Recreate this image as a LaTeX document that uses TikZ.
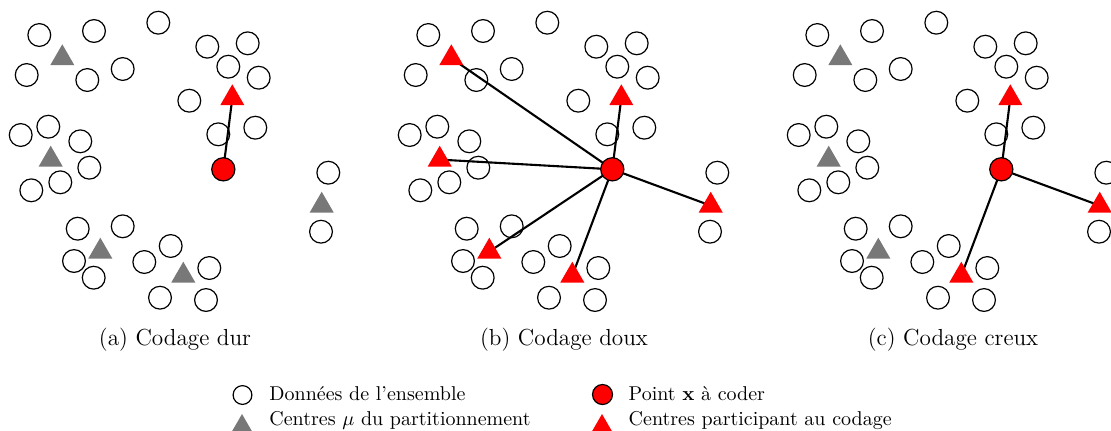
\documentclass[tikz,border=0pt]{standalone}
\usetikzlibrary{shapes.geometric,backgrounds}
\definecolor{ctrgray}{RGB}{120,120,120}
\tikzset{
  datum/.style={circle,draw=black,line width=0.6pt,minimum size=11.4pt,inner sep=0pt},
  ctrg/.style={regular polygon,regular polygon sides=3,minimum size=13.9pt,inner sep=0pt,outer sep=0pt,fill=ctrgray},
  ctrr/.style={ctrg,fill=red},
  xpt/.style={circle,draw=black,fill=red,line width=0.6pt,minimum size=11.6pt,inner sep=0pt},
  link/.style={line width=1.05pt,black},
  legd/.style={circle,draw=black,line width=0.6pt,minimum size=9.4pt,inner sep=0pt},
  legx/.style={circle,draw=black,fill=red,line width=0.6pt,minimum size=10pt,inner sep=0pt},
  legt/.style={regular polygon,regular polygon sides=3,minimum size=11.5pt,inner sep=0pt,outer sep=0pt},
  legtxt/.style={anchor=base west,inner sep=0pt,font=\fontsize{10}{12}\selectfont},
  capt/.style={anchor=base,inner sep=0pt,font=\fontsize{11.6}{14}\selectfont},
}
\def\datapts{39.3/35, 94/31, 158.3/22.7, 26.7/75, 87.3/80, 122.7/69, 207.3/46.7, 247.7/43.3, 228.3/66.7, 258.7/77.7, 189.3/100.7, 255.3/127.7, 218.3/134.3, 20.7/135, 48.3/126.7, 80.3/141.3, 89.3/167.7, 60.3/182.3, 31.3/190.3, 328.3/172.7, 321/231.7, 77.7/228.7, 122.7/226.3, 74/261, 93.7/277.7, 170.7/246, 144.3/262, 209.3/268, 160/297.7, 206/300}
\newcommand\dataset[1]{%
  \foreach \px/\py [count=\i] in \datapts {\node[datum] (#1-d\i) at (\px,\py) {};}}
\begin{document}
\begin{tikzpicture}[x=0.5pt,y=-0.5pt]
\clip (0,0) rectangle (1111,430);
% ---------- (a) hard coding ----------
\begin{scope}
  \dataset{a}
  \node[ctrg] (a-t1) at (62.3,58.2) {};
  \node[ctrg] (a-t2) at (50.7,159.6) {};
  \node[ctrg] (a-t3) at (100.3,251.6) {};
  \node[ctrg] (a-t4) at (183.3,275.6) {};
  \node[ctrg] (a-t5) at (321.7,205.6) {};
  \node[ctrr] (a-t6) at (232.3,98.2) {};
  \node[xpt] (a-x) at (223.3,169.3) {};
  \begin{scope}[on background layer]
    \draw[link] (a-x.center) -- (a-t6.center);
  \end{scope}
  \node[capt] (a-cap) at (175,345) {(a) Codage dur};
\end{scope}
% ---------- (b) soft coding ----------
\begin{scope}[shift={(389,0)}]
  \dataset{b}
  \node[ctrr] (b-t1) at (62.3,58.2) {};
  \node[ctrr] (b-t2) at (50.7,159.6) {};
  \node[ctrr] (b-t3) at (100.3,251.6) {};
  \node[ctrr] (b-t4) at (183.3,275.6) {};
  \node[ctrr] (b-t5) at (321.7,205.6) {};
  \node[ctrr] (b-t6) at (232.3,98.2) {};
  \node[xpt] (b-x) at (223.3,169.3) {};
  \begin{scope}[on background layer]
    \foreach \k in {1,...,6} {\draw[link] (b-x.center) -- (b-t\k.center);}
  \end{scope}
  \node[capt] (b-cap) at (175,345) {(b) Codage doux};
\end{scope}
% ---------- (c) sparse coding ----------
\begin{scope}[shift={(778,0)}]
  \dataset{c}
  \node[ctrg] (c-t1) at (62.3,58.2) {};
  \node[ctrg] (c-t2) at (50.7,159.6) {};
  \node[ctrg] (c-t3) at (100.3,251.6) {};
  \node[ctrr] (c-t4) at (183.3,275.6) {};
  \node[ctrr] (c-t5) at (321.7,205.6) {};
  \node[ctrr] (c-t6) at (232.3,98.2) {};
  \node[xpt] (c-x) at (223.3,169.3) {};
  \begin{scope}[on background layer]
    \foreach \k in {4,5,6} {\draw[link] (c-x.center) -- (c-t\k.center);}
  \end{scope}
  \node[capt] (c-cap) at (175,345) {(c) Codage creux};
\end{scope}
% ---------- legend ----------
\node[legd] (l-d) at (242.5,395) {};
\node[legtxt] (l-dt) at (269,400) {Donn\'ees de l'ensemble};
\node[legt,fill=ctrgray] (l-g) at (242,425.5) {};
\node[legtxt] (l-gt) at (269,425) {Centres $\mu$ du partitionnement};
\node[legx] (l-x) at (602.5,394.5) {};
\node[legtxt] (l-xt) at (628.3,400) {Point $\mathbf{x}$ \`a coder};
\node[legt,fill=red] (l-r) at (602,425.5) {};
\node[legtxt] (l-rt) at (628.3,425) {Centres participant au codage};
\end{tikzpicture}
\end{document}
